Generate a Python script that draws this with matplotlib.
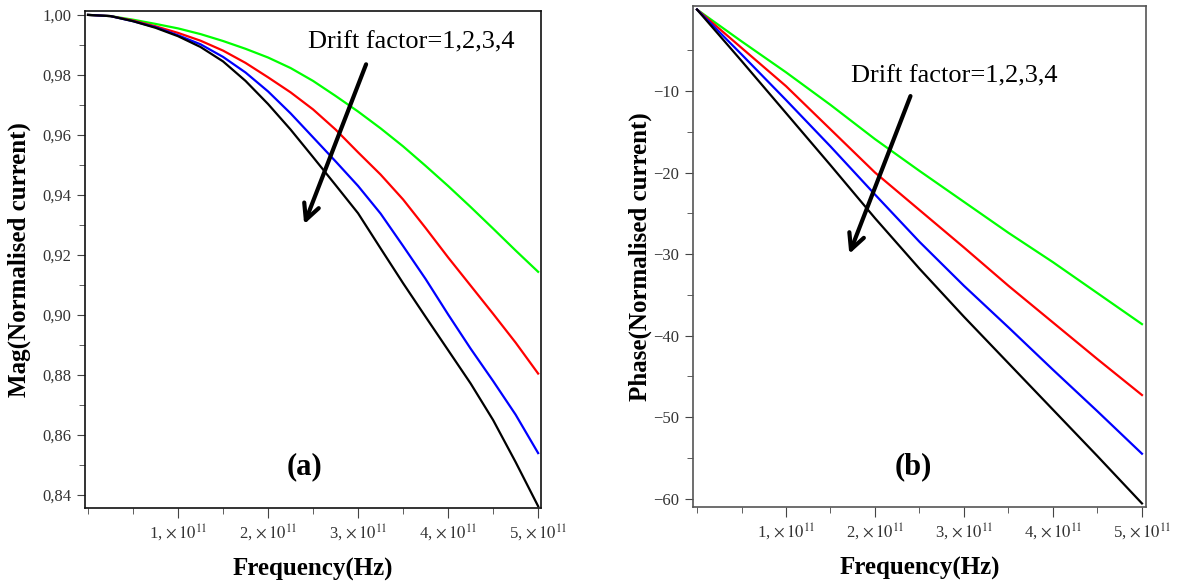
import matplotlib
matplotlib.use("Agg")
import matplotlib.pyplot as plt
from matplotlib.ticker import FixedLocator, MultipleLocator, FuncFormatter

plt.rcParams["font.family"] = ["Liberation Serif", "DejaVu Serif"]
plt.rcParams["mathtext.fontset"] = "stix"

# frequency grid for the magnitude curves, units of 1e11 Hz
freq_mag = [0.0, 0.25, 0.5, 0.75, 1.0, 1.25, 1.5, 1.75, 2.0, 2.25, 2.5,
            2.75, 3.0, 3.25, 3.5, 3.75, 4.0, 4.25, 4.5, 4.75, 5.0]

# normalised current magnitude, drift factor 1..4
mag_d1 = [1.0000, 0.9996, 0.9984, 0.9970, 0.9955, 0.9936, 0.9913, 0.9887, 0.9858, 0.9823, 0.9780,
          0.9730, 0.9678, 0.9622, 0.9562, 0.9497, 0.9430, 0.9360, 0.9288, 0.9215, 0.9144]
mag_d2 = [1.0000, 0.9996, 0.9981, 0.9962, 0.9940, 0.9914, 0.9881, 0.9840, 0.9792, 0.9742, 0.9685,
          0.9618, 0.9542, 0.9468, 0.9385, 0.9290, 0.9192, 0.9098, 0.9004, 0.8908, 0.8805]
mag_d3 = [1.0000, 0.9996, 0.9979, 0.9959, 0.9932, 0.9902, 0.9860, 0.9808, 0.9745, 0.9672, 0.9592,
          0.9512, 0.9430, 0.9338, 0.9230, 0.9120, 0.9002, 0.8888, 0.8780, 0.8668, 0.8540]
mag_d4 = [1.0000, 0.9996, 0.9979, 0.9957, 0.9929, 0.9893, 0.9845, 0.9780, 0.9703, 0.9618, 0.9526,
          0.9433, 0.9339, 0.9222, 0.9106, 0.8994, 0.8883, 0.8772, 0.8650, 0.8510, 0.8363]

# frequency grid for the phase curves, units of 1e11 Hz
freq_ph = [0.0, 0.5, 1.0, 1.5, 2.0, 2.5, 3.0, 3.5, 4.0, 4.5, 5.0]

# phase (degrees), drift factor 1..4
ph_d1 = [0.0, -3.9, -7.7, -11.7, -15.9, -19.8, -23.6, -27.4, -31.0, -34.8, -38.6]
ph_d2 = [0.0, -4.7, -9.4, -14.7, -20.0, -24.6, -29.2, -33.9, -38.4, -42.9, -47.3]
ph_d3 = [0.0, -5.5, -11.1, -16.8, -22.7, -28.5, -33.9, -39.0, -44.2, -49.3, -54.5]
ph_d4 = [0.0, -6.3, -12.7, -19.1, -25.6, -31.8, -37.7, -43.4, -49.1, -54.8, -60.6]

colors = ["#00ff00", "#ff0000", "#0000ff", "#000000"]
xtick_vals = [1, 2, 3, 4, 5]
xtick_labels = [rf"{v}, $\times\,10^{{11}}$" for v in xtick_vals]

fig = plt.figure(figsize=(11.83, 5.85), dpi=100, facecolor="white")
ax1 = fig.add_axes([0.0719, 0.1316, 0.3855, 0.8496])
ax2 = fig.add_axes([0.5858, 0.1333, 0.3829, 0.8564])


def style_axes(ax, spine_color):
    for sp in ax.spines.values():
        sp.set_color(spine_color)
        sp.set_linewidth(1.2)
    ax.xaxis.set_major_locator(FixedLocator(xtick_vals))
    ax.set_xticklabels(xtick_labels)
    ax.xaxis.set_minor_locator(MultipleLocator(0.5))
    ax.tick_params(which="both", direction="out", colors="#444444",
                   labelcolor="#333333", labelsize=12)
    ax.tick_params(axis="x", which="major", length=7, pad=3)
    ax.tick_params(axis="x", which="minor", length=4)
    ax.tick_params(axis="y", which="major", length=6, pad=4)
    ax.tick_params(axis="y", which="minor", length=4)
    ax.set_xlabel("Frequency(Hz)", fontsize=18, fontweight="bold", labelpad=11)


# (a) magnitude
for ys, c in zip([mag_d1, mag_d2, mag_d3, mag_d4], colors):
    ax1.plot(freq_mag, ys, color=c, linewidth=1.6)
ax1.set_xlim(-0.033, 5.033)
ax1.set_ylim(0.8357, 1.0013)
ax1.yaxis.set_major_locator(MultipleLocator(0.02))
ax1.yaxis.set_minor_locator(MultipleLocator(0.01))
ax1.yaxis.set_major_formatter(FuncFormatter(lambda v, p: f"{v:.2f}".replace(".", ",")))
style_axes(ax1, "#111111")
ax1.set_ylabel("Mag(Normalised current)", fontsize=18, fontweight="bold", labelpad=8)
ax1.text(2.44, 0.9907, "Drift factor=1,2,3,4", fontsize=19, va="center", ha="left")
ax1.annotate("", xy=(2.39, 0.9294), xytext=(3.10, 0.9844),
             arrowprops=dict(arrowstyle="->", lw=3, color="black", mutation_scale=28))
ax1.text(2.41, 0.8494, "(a)", fontsize=22, fontweight="bold", ha="center", va="center")

# (b) phase
for ys, c in zip([ph_d1, ph_d2, ph_d3, ph_d4], colors):
    ax2.plot(freq_ph, ys, color=c, linewidth=1.6)
ax2.set_xlim(-0.045, 5.045)
ax2.set_ylim(-61.04, 0.43)
ax2.yaxis.set_major_locator(FixedLocator([-10, -20, -30, -40, -50, -60]))
ax2.yaxis.set_minor_locator(FixedLocator([-5, -15, -25, -35, -45, -55]))
ax2.yaxis.set_major_formatter(FuncFormatter(lambda v, p: f"\u2212{abs(v):.0f}"))
style_axes(ax2, "#555555")
ax2.set_ylabel("Phase(Normalised current)", fontsize=18, fontweight="bold", labelpad=1)
ax2.text(1.73, -8.2, "Drift factor=1,2,3,4", fontsize=19, va="center", ha="left")
ax2.annotate("", xy=(1.70, -30.3), xytext=(2.41, -10.3),
             arrowprops=dict(arrowstyle="->", lw=3, color="black", mutation_scale=28))
ax2.text(2.43, -56.1, "(b)", fontsize=22, fontweight="bold", ha="center", va="center")

fig.savefig("out.png", dpi=100, facecolor="white")
